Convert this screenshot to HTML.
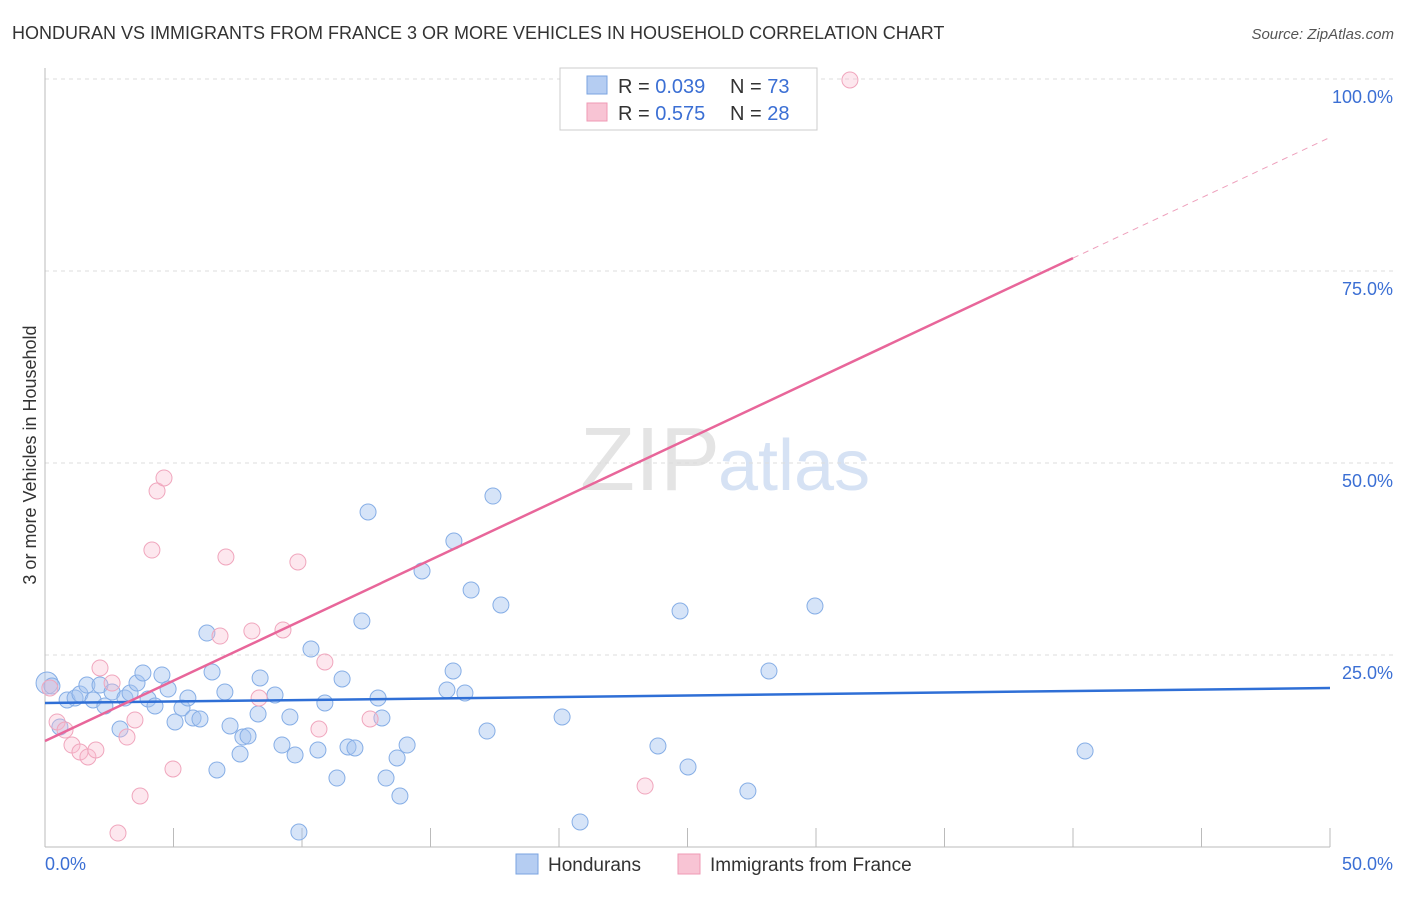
<!DOCTYPE html>
<html><head><meta charset="utf-8"><style>
body{margin:0;background:#fff;font-family:"Liberation Sans",sans-serif;}
svg text{font-family:"Liberation Sans",sans-serif;}
</style></head><body>
<svg width="1406" height="892" id="chart">
<text x="12" y="39" font-size="18" fill="#333">HONDURAN VS IMMIGRANTS FROM FRANCE 3 OR MORE VEHICLES IN HOUSEHOLD CORRELATION CHART</text>
<text x="1394" y="39" font-size="15" fill="#555" font-style="italic" text-anchor="end">Source: ZipAtlas.com</text>
<text x="36" y="455" font-size="18" fill="#333" transform="rotate(-90 36 455)" text-anchor="middle">3 or more Vehicles in Household</text>
<text x="720" y="490" font-size="90" fill="#e4e4e4" text-anchor="end" font-family="Liberation Serif">ZIP</text>
<text x="718" y="490" font-size="72" fill="#d6e2f4">atlas</text>
<g id="grid"></g><g id="axes"></g><g id="marks"></g>
<g>
<rect x="560" y="68" width="257" height="62" fill="#fff" stroke="#ccc"/>
<rect x="587" y="76" width="20" height="18" fill="#b5cdf2" stroke="#7aa3e0"/>
<text x="618" y="93" font-size="20" fill="#333">R = <tspan fill="#3b6fd4">0.039</tspan></text>
<text x="730" y="93" font-size="20" fill="#333">N = <tspan fill="#3b6fd4">73</tspan></text>
<rect x="587" y="103" width="20" height="18" fill="#f8c4d4" stroke="#ef9ab5"/>
<text x="618" y="120" font-size="20" fill="#333">R = <tspan fill="#3b6fd4">0.575</tspan></text>
<text x="730" y="120" font-size="20" fill="#333">N = <tspan fill="#3b6fd4">28</tspan></text>
</g>
<g>
<rect x="516" y="854" width="22" height="20" fill="#b5cdf2" stroke="#7aa3e0"/>
<text x="548" y="871" font-size="19" fill="#333">Hondurans</text>
<rect x="678" y="854" width="22" height="20" fill="#f8c4d4" stroke="#ef9ab5"/>
<text x="710" y="871" font-size="19" fill="#333">Immigrants from France</text>
</g>
</svg>
<script>
const yTicks=[25,50,75,100];
const yTickLabels=["25.0%","50.0%","75.0%","100.0%"];
const xTickLabels=["0.0%","50.0%"];
const blueX=[0.08,0.27,0.58,0.86,1.17,1.36,1.63,1.87,2.14,2.33,2.61,2.92,3.11,3.31,3.58,3.81,4.01,4.28,4.55,4.79,5.06,5.33,5.56,5.76,6.03,6.30,6.50,6.69,7.00,7.20,7.59,7.70,7.90,8.29,8.37,8.95,9.22,9.53,9.73,9.88,10.35,10.62,10.89,11.36,11.56,11.79,12.06,12.33,12.57,12.96,13.11,13.27,13.70,13.81,14.09,14.67,15.64,15.88,15.91,16.34,16.58,17.20,17.43,17.74,20.12,20.82,23.85,24.71,25.02,27.35,28.17,29.96,40.47];
const blueY=[21.35,20.96,15.63,19.14,19.40,19.92,21.09,19.14,21.09,18.36,20.18,15.36,19.40,20.05,21.35,22.66,19.27,18.36,22.40,20.57,16.28,18.10,19.40,16.80,16.67,27.86,22.79,10.03,20.18,15.76,12.11,14.32,14.45,17.32,22.01,19.79,13.28,16.93,11.98,1.95,25.78,12.63,18.75,8.98,21.88,13.02,12.89,29.43,43.62,19.40,16.80,8.98,11.59,6.64,13.28,35.94,20.44,22.92,39.84,20.05,33.46,15.10,45.70,31.51,16.93,3.26,13.15,30.73,10.42,7.29,22.92,31.38,12.50];
const pinkX=[0.19,0.47,0.78,1.05,1.36,1.67,1.98,2.14,2.61,2.84,3.19,3.50,3.70,4.16,4.36,4.63,4.98,6.81,7.04,8.05,8.33,9.26,9.84,10.66,10.89,12.65,23.35,31.32];
const pinkY=[20.70,16.28,15.23,13.28,12.37,11.72,12.63,23.31,21.35,1.82,14.32,16.54,6.64,38.67,46.35,48.05,10.16,27.47,37.76,28.13,19.40,28.26,37.11,15.36,24.09,16.67,7.94,99.87];
const blueTrend=[18.75,20.7];
const pinkTrend=[13.8,92.4];
const pinkSolidEnd=40;

const NS="http://www.w3.org/2000/svg";
const xs=v=>45+v*25.7, ys=v=>847-v*7.68;
function mk(t,a,p){const e=document.createElementNS(NS,t);for(const k in a)e.setAttribute(k,a[k]);document.getElementById(p).appendChild(e);return e;}
yTicks.forEach((t,i)=>{
 const g=mk('line',{x1:45,x2:1393,y1:ys(t),y2:ys(t),stroke:'#ddd','stroke-dasharray':'4,4'},'grid');
 
 
 const l=mk('text',{x:1393,y:ys(t)+24,'font-size':18,fill:'#3b6fd4','text-anchor':'end'},'axes');l.textContent=yTickLabels[i];
 
 
});
mk('line',{x1:45,x2:45,y1:68,y2:847,stroke:'#bbb'},'axes');
mk('line',{x1:45,x2:1330,y1:847,y2:847,stroke:'#bbb'},'axes');
for(let i=0;i<=10;i++){mk('line',{x1:xs(i*5),x2:xs(i*5),y1:828,y2:847,stroke:'#bbb'},'axes');}
[[0,'start',45],[50,'end',1393]].forEach((d,i)=>{const t=mk('text',{x:d[2],y:870,'font-size':18,fill:'#3b6fd4','text-anchor':d[1]},'axes');t.textContent=xTickLabels[i];
 
 });
blueX.forEach((x,i)=>{const c=mk('circle',{cx:xs(x),cy:ys(blueY[i]),r:i==0?11:8,fill:'rgba(164,196,240,0.45)',stroke:'#86aee6','stroke-width':1},'marks');
 
 });
pinkX.forEach((x,i)=>{const c=mk('circle',{cx:xs(x),cy:ys(pinkY[i]),r:8,fill:'rgba(248,185,205,0.35)',stroke:'#f0a6bd','stroke-width':1},'marks');
 
 });
const bl=mk('line',{x1:xs(0),y1:ys(blueTrend[0]),x2:xs(50),y2:ys(blueTrend[1]),stroke:'#2f6fd6','stroke-width':2.5},'marks');


const py=x=>pinkTrend[0]+(pinkTrend[1]-pinkTrend[0])*x/50;
const pl=mk('line',{x1:xs(0),y1:ys(py(0)),x2:xs(pinkSolidEnd),y2:ys(py(pinkSolidEnd)),stroke:'#e8669a','stroke-width':2.5},'marks');


const pd=mk('line',{x1:xs(pinkSolidEnd),y1:ys(py(pinkSolidEnd)),x2:xs(50),y2:ys(py(50)),stroke:'#eea0bc','stroke-width':1,'stroke-dasharray':'6,5'},'marks');


</script>
</body></html>
